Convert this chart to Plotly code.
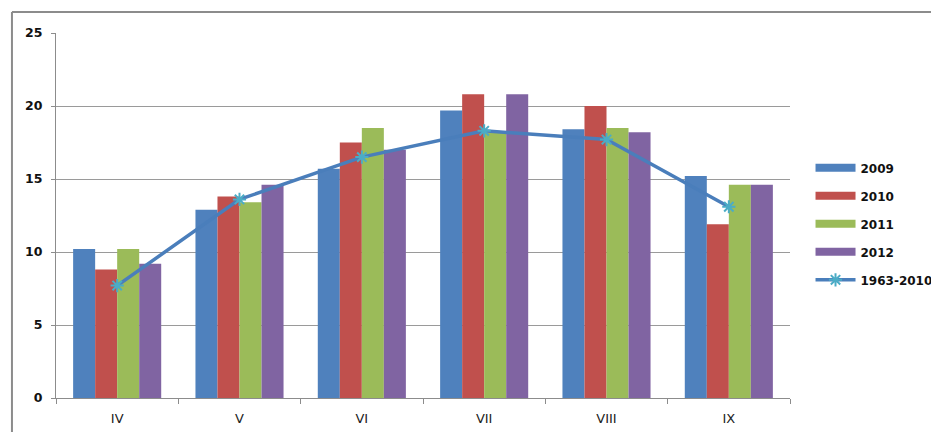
import plotly.graph_objects as go

months = ["IV", "V", "VI", "VII", "VIII", "IX"]
y2009 = [10.2, 12.9, 15.7, 19.7, 18.4, 15.2]
y2010 = [8.8, 13.8, 17.5, 20.8, 20.0, 11.9]
y2011 = [10.2, 13.4, 18.5, 18.2, 18.5, 14.6]
y2012 = [9.2, 14.6, 17.0, 20.8, 18.2, 14.6]
y_mean = [7.7, 13.6, 16.5, 18.3, 17.7, 13.1]
y_ticks = [0, 5, 10, 15, 20, 25]
series_names = ["2009", "2010", "2011", "2012"]

colors = ["#4F81BD", "#C0504D", "#9BBB59", "#8064A2"]
fig = go.Figure()
for name, vals, c in zip(series_names, [y2009, y2010, y2011, y2012], colors):
    fig.add_trace(go.Bar(x=months, y=vals, name=name, marker=dict(color=c, line=dict(width=0)),
                         showlegend=False))
# legend-only entries drawn as wide rectangles like the original
for name, c in zip(series_names, colors):
    fig.add_trace(go.Scatter(x=[None], y=[None], name=name, mode="lines",
                             line=dict(color=c, width=8), legendgroup=name))
fig.add_trace(go.Scatter(x=months, y=y_mean, name="1963-2010", mode="lines+markers",
                         line=dict(color="#4A7EBB", width=3.5),
                         marker=dict(symbol="asterisk-open", size=11, color="#4BACC6",
                                     line=dict(color="#4BACC6", width=2)),
                         legendgroup="mean"))

border = dict(color="#8c8c8c", width=2)
fig.update_layout(
    width=931, height=424,
    margin=dict(l=48, r=149, t=25, b=34, autoexpand=False),
    paper_bgcolor="white", plot_bgcolor="white",
    barmode="group", bargap=0.28, bargroupgap=0,
    font=dict(family="DejaVu Sans", size=12, color="#000"),
    showlegend=True,
    legend=dict(xref="container", yref="container", x=0.862, y=0.491,
                xanchor="left", yanchor="middle",
                font=dict(family="DejaVu Sans", size=12, color="#111", weight="bold"),
                tracegroupgap=9, bgcolor="rgba(0,0,0,0)", itemwidth=40),
    shapes=[
        dict(type="line", xref="paper", yref="paper", x0=-0.06, x1=1.3, y0=1.0575, y1=1.0575,
             line=border, layer="below"),
        dict(type="line", xref="paper", yref="paper", x0=-0.06, x1=-0.06, y0=-0.3, y1=1.0575,
             line=border, layer="below"),
    ],
)
fig.update_xaxes(type="category", showline=True, linecolor="#8c8c8c", linewidth=1,
                 ticks="outside", tickson="boundaries", ticklen=5, tickcolor="#8c8c8c",
                 ticklabelstandoff=8, automargin=False,
                 showgrid=False, tickfont=dict(family="DejaVu Sans", size=13, color="#222"))
fig.update_yaxes(range=[0, 25], tickvals=y_ticks, showline=True, linecolor="#8c8c8c", linewidth=1,
                 ticks="outside", ticklen=4, tickcolor="#8c8c8c", ticklabelstandoff=6,
                 automargin=False,
                 showgrid=True, gridcolor="#9a9a9a", gridwidth=1, zeroline=False,
                 tickfont=dict(family="DejaVu Sans", size=12.5, color="#111", weight="bold"))

fig.write_html("out.html")
